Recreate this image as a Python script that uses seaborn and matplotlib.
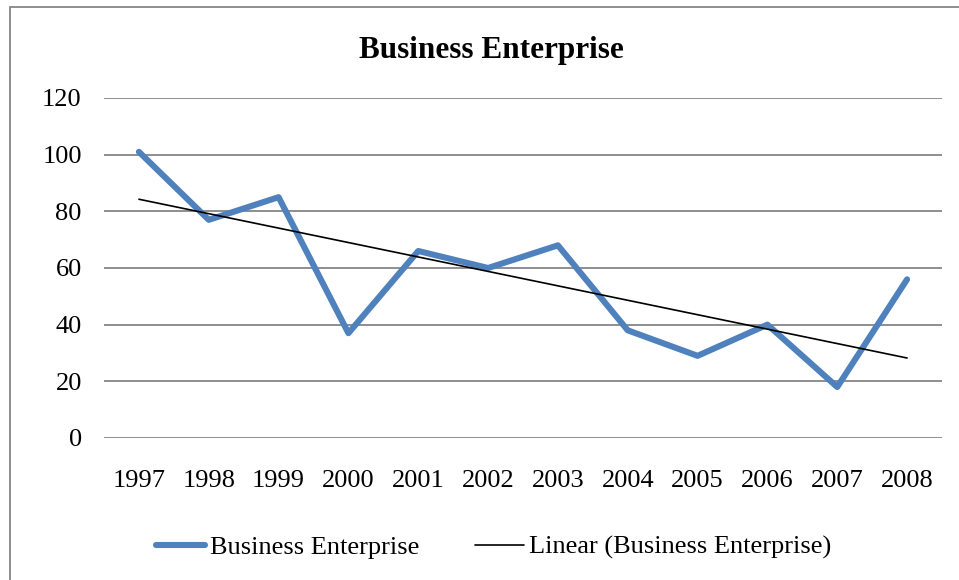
import numpy as np
import pandas as pd
import matplotlib
matplotlib.use("Agg")
import matplotlib.pyplot as plt
from matplotlib.patches import Rectangle
import seaborn as sns

years = ["1997", "1998", "1999", "2000", "2001", "2002",
         "2003", "2004", "2005", "2006", "2007", "2008"]
business_enterprise = [101, 77, 85, 37, 66, 60, 68, 38, 29, 40, 18, 56]
y_ticks = [0, 20, 40, 60, 80, 100, 120]

sns.set_theme(style="white")
plt.rcParams["font.family"] = ["Liberation Serif", "DejaVu Serif"]
plt.rcParams["text.color"] = "black"

pos = np.arange(len(years))
df = pd.DataFrame({"pos": pos, "value": business_enterprise})

# least-squares linear trend of the series
slope, intercept = np.polyfit(pos, business_enterprise, 1)
df["trend"] = slope * pos + intercept

fig = plt.figure(figsize=(9.59, 5.80), dpi=100)
ax = fig.add_axes([104 / 959, 1 - 438 / 580, (942 - 104) / 959, (438 - 98) / 580])

grid_color = "#868686"
for t in y_ticks:
    ax.axhline(t, color=grid_color, lw=1.3, zorder=0)

sns.lineplot(data=df, x="pos", y="value", ax=ax, color="#4F81BD", lw=4.4,
             label="Business Enterprise", solid_capstyle="round",
             solid_joinstyle="round", zorder=3)
sns.lineplot(data=df, x="pos", y="trend", ax=ax, color="black", lw=1.2,
             label="Linear (Business Enterprise)", zorder=4)

ax.set_xlim(-0.5, len(years) - 0.5)
ax.set_ylim(0, 120)
ax.set_xticks(pos)
ax.set_xticklabels(years)
ax.set_yticks(y_ticks)
ax.tick_params(axis="both", length=0, labelsize=19, colors="black")
ax.tick_params(axis="y", pad=16)
ax.tick_params(axis="x", pad=23)
ax.set_xlabel("")
ax.set_ylabel("")
for s in ax.spines.values():
    s.set_visible(False)

fig.text(491 / 959, 1 - 50.5 / 580, "Business Enterprise", ha="center", va="center",
         fontsize=22.5, fontweight="bold", color="black")

ax.legend(loc="center", bbox_to_anchor=(494 / 959, 1 - 547.5 / 580),
          bbox_transform=fig.transFigure, ncol=2, frameon=False, fontsize=19,
          handlelength=1.85, handletextpad=0.2, columnspacing=2.1)

# chart frame
fig.patches.append(Rectangle((10 / 959, -0.05), 1.1, 1 - 7 / 580 + 0.05,
                             transform=fig.transFigure, fill=False,
                             edgecolor=grid_color, lw=1.3))

fig.savefig("out.png", dpi=100)
